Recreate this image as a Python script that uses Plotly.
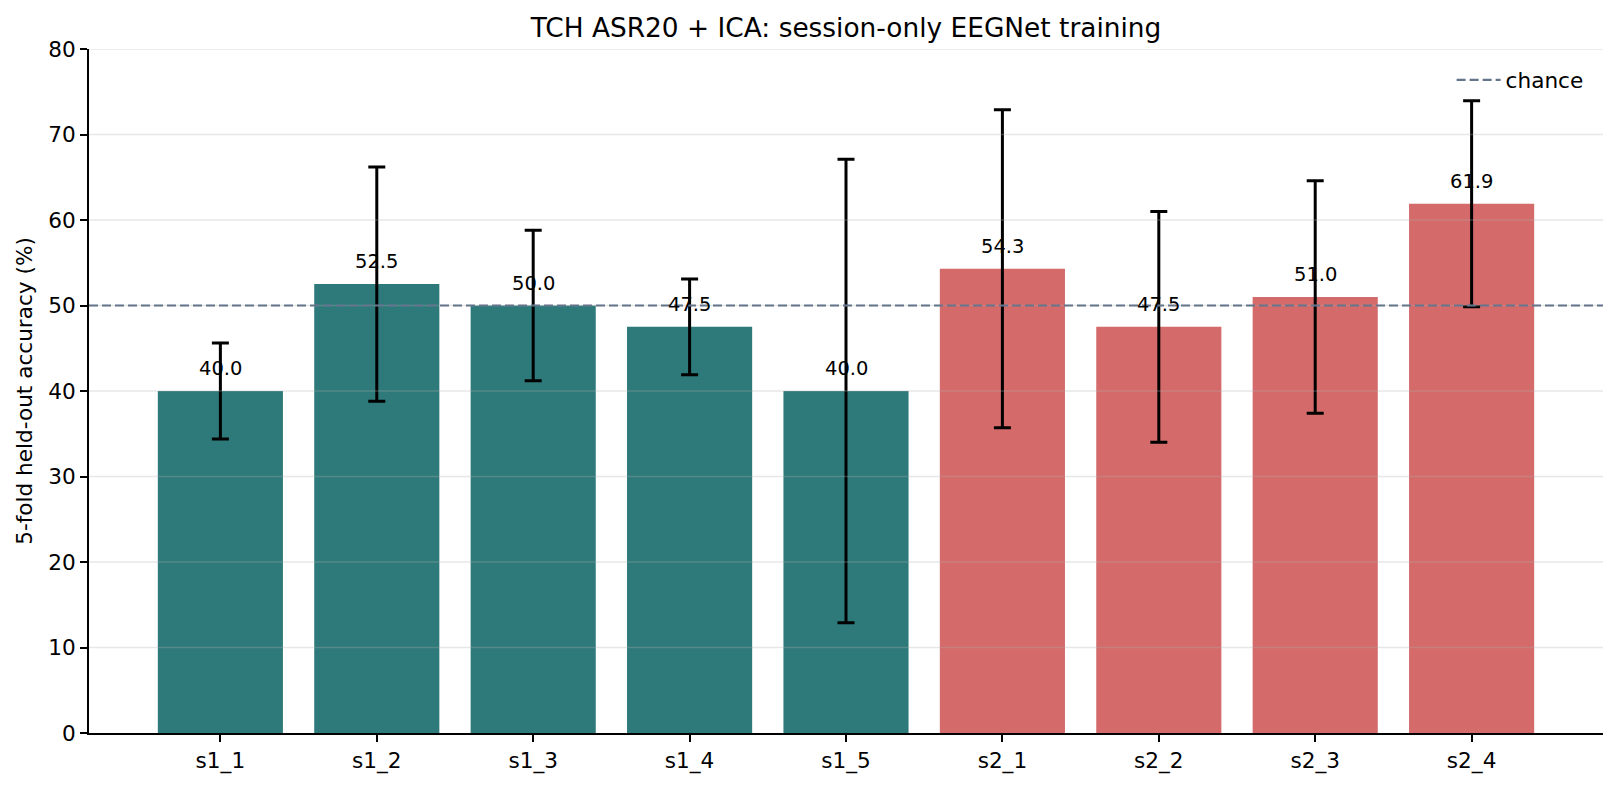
import plotly.graph_objects as go

categories = ["s1_1", "s1_2", "s1_3", "s1_4", "s1_5", "s2_1", "s2_2", "s2_3", "s2_4"]
accuracy = [40.0, 52.5, 50.0, 47.5, 40.0, 54.3, 47.5, 51.0, 61.9]
errors = [5.6, 13.7, 8.8, 5.6, 27.1, 18.6, 13.5, 13.6, 12.05]
session = ["s1", "s1", "s1", "s1", "s1", "s2", "s2", "s2", "s2"]
session_colors = {"s1": "#2E7A7B", "s2": "#D46A6A"}
chance_level = 50
y_ticks = [0, 10, 20, 30, 40, 50, 60, 70, 80]

FONT = "DejaVu Sans"
BASE = 21.6

fig = go.Figure()
fig.add_trace(go.Bar(
    x=categories,
    y=accuracy,
    width=0.8,
    marker=dict(color=[session_colors[s] for s in session], line=dict(width=0)),
    error_y=dict(type="data", array=errors, visible=True, color="black", thickness=3, width=8.5),
    showlegend=False,
    hoverinfo="skip",
))

# grid lines drawn above bars (as in reference)
for t in y_ticks[1:]:
    fig.add_shape(type="line", xref="x domain", yref="y", x0=0, x1=1, y0=t, y1=t,
                  line=dict(color="rgba(176,176,176,0.3)", width=1.5), layer="above")

# chance line
fig.add_shape(type="line", xref="x domain", yref="y", x0=0, x1=1, y0=chance_level, y1=chance_level,
              line=dict(color="#64748B", width=2.2, dash="9px,4px"), layer="above",
              showlegend=True, name="chance")

for c, v in zip(categories, accuracy):
    fig.add_annotation(x=c, y=v + 1.5, text=f"{v:.1f}", showarrow=False, yanchor="bottom",
                       xanchor="center", font=dict(family=FONT, size=19.5, color="black"),
                       borderpad=0, yshift=-3)

fig.update_layout(
    width=1618, height=786,
    margin=dict(l=89, r=15, t=49, b=53, autoexpand=False),
    plot_bgcolor="white", paper_bgcolor="white",
    font=dict(family=FONT, size=BASE, color="black"),
    title=dict(text="TCH ASR20 + ICA: session-only EEGNet training", x=0.5, xref="paper",
               y=1 - 28 / 786, yref="container", yanchor="middle", xanchor="center",
               font=dict(family=FONT, size=26.4, color="black")),
    showlegend=True,
    legend=dict(x=0.9905, xanchor="right", y=0.985, yanchor="top", bgcolor="rgba(0,0,0,0)",
                itemwidth=44,
                font=dict(family=FONT, size=BASE, color="black")),
    bargap=0.2,
)
fig.update_xaxes(range=[-0.84, 8.84], showline=True, linecolor="black", linewidth=1.7,
                 ticks="outside", ticklen=7, tickwidth=1.7, tickcolor="black",
                 showgrid=False, zeroline=False, tickfont=dict(size=BASE))
fig.update_yaxes(range=[0, 80], tickvals=y_ticks, showline=True, linecolor="black", linewidth=1.7,
                 ticks="outside", ticklen=7, tickwidth=1.7, tickcolor="black",
                 showgrid=False, zeroline=False, tickfont=dict(size=BASE),
                 title=dict(text="5-fold held-out accuracy (%)", font=dict(size=BASE), standoff=10))

fig.write_html("out.html")
